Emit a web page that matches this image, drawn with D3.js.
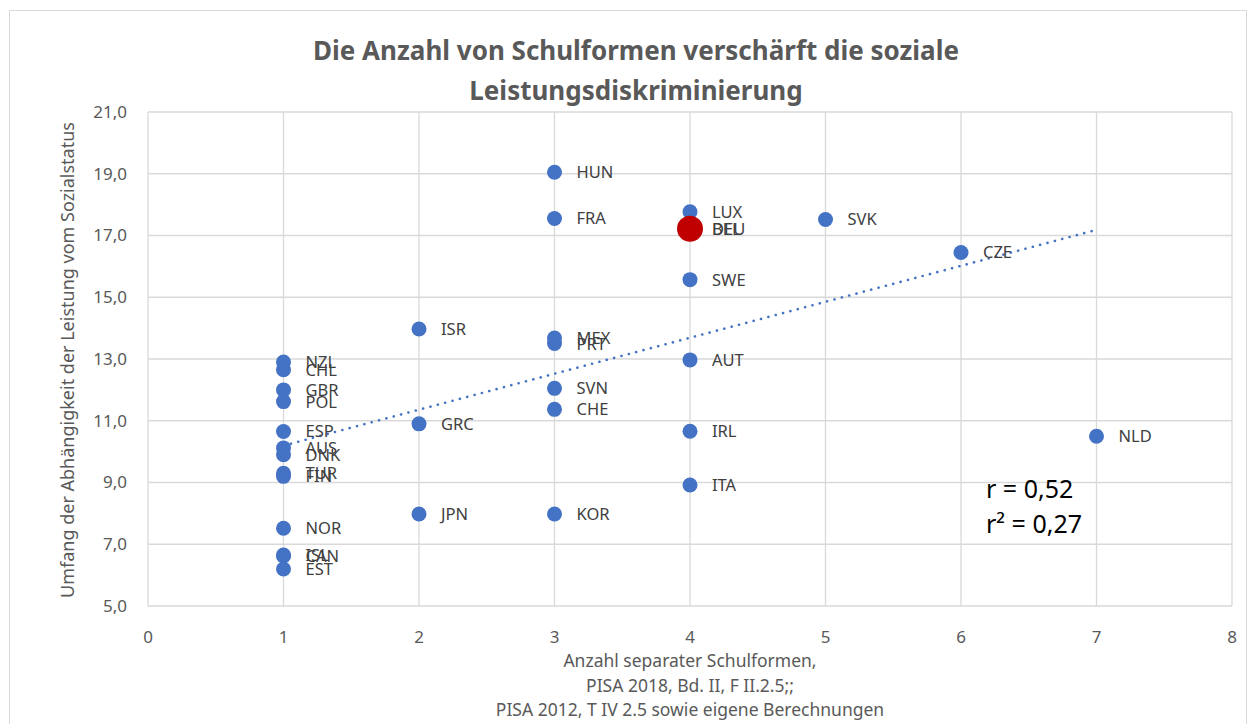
<!DOCTYPE html>
<html>
<head>
<meta charset="utf-8">
<script src="https://cdn.jsdelivr.net/npm/d3@7"></script>
<style>
  body { margin: 0; background: #fff; }
  svg { font-family: "Noto Sans", "Open Sans", sans-serif; }
  .grid line { stroke: #d9d9d9; stroke-width: 1.3; }
  .tick-label { fill: #595959; font-size: 17px; }
  .pt-label { fill: #404040; font-size: 16.5px; }
  .axis-title { fill: #595959; font-size: 17.5px; }
</style>
</head>
<body>
<svg width="1249" height="724"></svg>
<script>
// country codes, number of school types, dependence of achievement on social status
var countries = ["NZL", "CHL", "GBR", "POL", "ESP", "AUS", "DNK", "TUR", "FIN", "NOR", "ISL", "CAN", "EST",
  "ISR", "GRC", "JPN",
  "HUN", "FRA", "MEX", "PRT", "SVN", "CHE", "KOR",
  "LUX", "BEL", "SWE", "AUT", "IRL", "ITA",
  "SVK", "CZE", "NLD"];
var schoolTypes = [1, 1, 1, 1, 1, 1, 1, 1, 1, 1, 1, 1, 1,
  2, 2, 2,
  3, 3, 3, 3, 3, 3, 3,
  4, 4, 4, 4, 4, 4,
  5, 6, 7];
var socialStatus = [12.9, 12.65, 12.0, 11.62, 10.65, 10.12, 9.9, 9.3, 9.2, 7.52, 6.65, 6.62, 6.2,
  13.97, 10.9, 7.98,
  19.05, 17.55, 13.68, 13.5, 12.05, 11.37, 7.98,
  17.77, 17.2, 15.57, 12.97, 10.66, 8.92,
  17.52, 16.45, 10.5];

// Germany highlighted
var highlight = { name: "DEU", x: 4, y: 17.22 };

var xTicks = [0, 1, 2, 3, 4, 5, 6, 7, 8];
var yTicks = [5, 7, 9, 11, 13, 15, 17, 19, 21];

var titleLines = ["Die Anzahl von Schulformen verschärft die soziale", "Leistungsdiskriminierung"];
var xTitleLines = ["Anzahl separater Schulformen,", "PISA 2018, Bd. II, F II.2.5;;", "PISA 2012, T IV 2.5 sowie eigene Berechnungen"];
var yTitle = "Umfang der Abhängigkeit der Leistung vom Sozialstatus";
var statLines = ["r = 0,52", "r² = 0,27"];

var svg = d3.select("svg");

svg.append("rect")
  .attr("x", 9.5).attr("y", 10.5)
  .attr("width", 1237).attr("height", 740)
  .attr("fill", "#fff")
  .attr("stroke", "#d9d9d9");

var x = d3.scaleLinear().domain([0, 8]).range([148, 1232]);
var y = d3.scaleLinear().domain([5, 21]).range([606, 112]);

var fmt = function(d) { return d3.format(".1f")(d).replace(".", ","); };

var grid = svg.append("g").attr("class", "grid");
grid.selectAll("line.h").data(yTicks).enter().append("line")
  .attr("x1", x(0)).attr("x2", x(8))
  .attr("y1", function(d) { return y(d); })
  .attr("y2", function(d) { return y(d); });
grid.selectAll("line.v").data(xTicks).enter().append("line")
  .attr("y1", y(5)).attr("y2", y(21))
  .attr("x1", function(d) { return x(d); })
  .attr("x2", function(d) { return x(d); });

svg.selectAll("text.ylab").data(yTicks).enter().append("text")
  .attr("class", "tick-label")
  .attr("x", 127).attr("y", function(d) { return y(d); })
  .attr("dy", "0.35em")
  .attr("text-anchor", "end")
  .text(fmt);

svg.selectAll("text.xlab").data(xTicks).enter().append("text")
  .attr("class", "tick-label")
  .attr("x", function(d) { return x(d); }).attr("y", 637)
  .attr("dy", "0.35em")
  .attr("text-anchor", "middle")
  .text(function(d) { return d; });

// linear trend
var pts = countries.map(function(c, i) { return { name: c, x: schoolTypes[i], y: socialStatus[i] }; });
var all = pts.concat([highlight]);
var mx = d3.mean(all, function(d) { return d.x; });
var my = d3.mean(all, function(d) { return d.y; });
var sxy = d3.sum(all, function(d) { return (d.x - mx) * (d.y - my); });
var sxx = d3.sum(all, function(d) { return (d.x - mx) * (d.x - mx); });
var slope = sxy / sxx, icpt = my - slope * mx;

svg.append("line")
  .attr("x1", x(1)).attr("y1", y(icpt + slope * 1))
  .attr("x2", x(7)).attr("y2", y(icpt + slope * 7))
  .attr("stroke", "#4472c4")
  .attr("stroke-width", 2.6)
  .attr("stroke-linecap", "round")
  .attr("stroke-dasharray", "0.1 7.5");

svg.append("g").selectAll("circle").data(pts).enter().append("circle")
  .attr("cx", function(d) { return x(d.x); })
  .attr("cy", function(d) { return y(d.y); })
  .attr("r", 7.5)
  .attr("fill", "#4472c4");

svg.append("circle")
  .attr("cx", x(highlight.x)).attr("cy", y(highlight.y))
  .attr("r", 13)
  .attr("fill", "#c00000");

svg.append("g").selectAll("text").data(all).enter().append("text")
  .attr("class", "pt-label")
  .attr("x", function(d) { return x(d.x) + 22; })
  .attr("y", function(d) { return y(d.y); })
  .attr("dy", "0.36em")
  .text(function(d) { return d.name; });

svg.selectAll("text.title").data(titleLines).enter().append("text")
  .attr("x", 636).attr("y", function(d, i) { return 60 + i * 40; })
  .attr("text-anchor", "middle")
  .attr("fill", "#595959")
  .style("font-size", "26px")
  .style("font-weight", "bold")
  .text(function(d) { return d; });

svg.selectAll("text.xt").data(xTitleLines).enter().append("text")
  .attr("class", "axis-title")
  .attr("x", 690).attr("y", function(d, i) { return 667 + i * 24.5; })
  .attr("text-anchor", "middle")
  .text(function(d) { return d; });

svg.append("text")
  .attr("class", "axis-title")
  .style("font-size", "18px")
  .attr("transform", "translate(74,360) rotate(-90)")
  .attr("text-anchor", "middle")
  .text(yTitle);

svg.selectAll("text.stat").data(statLines).enter().append("text")
  .attr("x", 986).attr("y", function(d, i) { return 498 + i * 35; })
  .attr("fill", "#000")
  .style("font-size", "25px")
  .text(function(d) { return d; });
</script>
</body>
</html>
